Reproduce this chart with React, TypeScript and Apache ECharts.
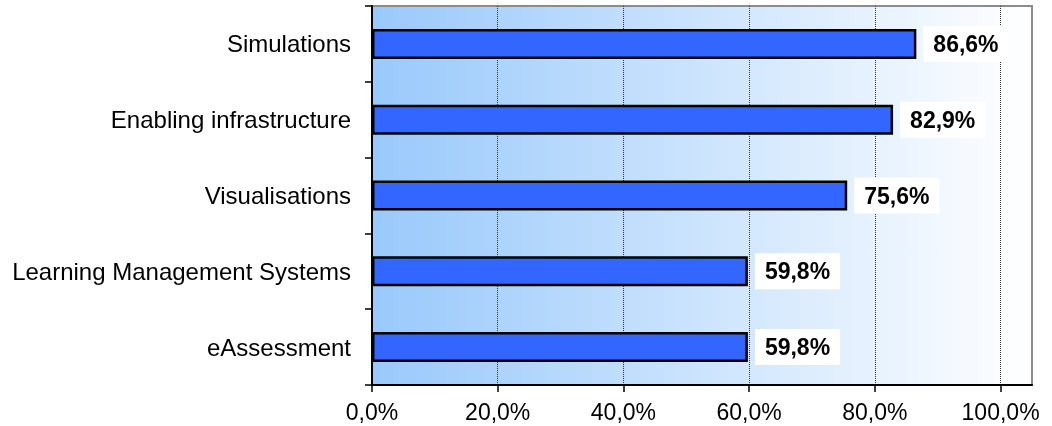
import React, { useEffect, useRef } from "react";
import * as echarts from "echarts";

// Technologies, listed top to bottom
const categories: string[] = [
  "Simulations",
  "Enabling infrastructure",
  "Visualisations",
  "Learning Management Systems",
  "eAssessment",
];

// Share of respondents (%)
const values: number[] = [86.6, 82.9, 75.6, 59.8, 59.8];

// Percent axis ticks
const xTicks: number[] = [0, 20, 40, 60, 80, 100];

const FONT = "'Liberation Sans', Arial, Helvetica, sans-serif";

const pct = (v: number) => v.toFixed(1).replace(".", ",") + "%";

export default function App() {
  const ref = useRef<HTMLDivElement>(null);

  useEffect(() => {
    if (!ref.current) return;
    const chart = echarts.init(ref.current, null, { renderer: "svg" });
    chart.setOption({
      animation: false,
      textStyle: { fontFamily: FONT },
      grid: {
        left: 372,
        right: 20,
        top: 6,
        bottom: 41,
        show: true,
        borderColor: "#8c8c8c",
        borderWidth: 2,
        backgroundColor: new echarts.graphic.LinearGradient(0, 0, 1, 0, [
          { offset: 0, color: "#99c9fb" },
          { offset: 1, color: "#ffffff" },
        ]),
      },
      xAxis: {
        type: "value",
        min: 0,
        max: 105,
        interval: 20,
        axisLine: { show: true, lineStyle: { color: "#000", width: 2 } },
        axisTick: {
          show: true,
          length: 7,
          customValues: xTicks,
          lineStyle: { color: "#000", width: 1.5 },
        },
        axisLabel: {
          customValues: xTicks,
          margin: 15,
          fontSize: 23,
          color: "#000",
          fontFamily: FONT,
          formatter: (v: number) => pct(v),
        },
        splitLine: {
          show: true,
          lineStyle: { color: "#333", type: "dotted", width: 1 },
        },
      },
      yAxis: {
        type: "category",
        data: categories,
        inverse: true,
        axisLine: { show: true, lineStyle: { color: "#000", width: 2 } },
        axisTick: {
          show: true,
          length: 7,
          lineStyle: { color: "#000", width: 1.5 },
        },
        axisLabel: {
          margin: 21,
          fontSize: 24,
          color: "#000",
          fontFamily: FONT,
        },
        splitLine: { show: false },
      },
      series: [
        {
          type: "bar",
          data: values,
          barWidth: 30,
          itemStyle: {
            color: "#3366ff",
            borderColor: "#000",
            borderWidth: 2.5,
          },
          label: {
            show: true,
            position: "right",
            distance: 7,
            formatter: (p: any) => pct(p.value),
            backgroundColor: "#ffffff",
            padding: [7, 10, 6, 10],
            fontSize: 23,
            fontWeight: "bold",
            color: "#000",
            fontFamily: FONT,
          },
        },
      ],
    });
    return () => chart.dispose();
  }, []);

  return (
    <div
      ref={ref}
      style={{ position: "fixed", left: 0, top: 0, width: 1052, height: 426 }}
    />
  );
}
